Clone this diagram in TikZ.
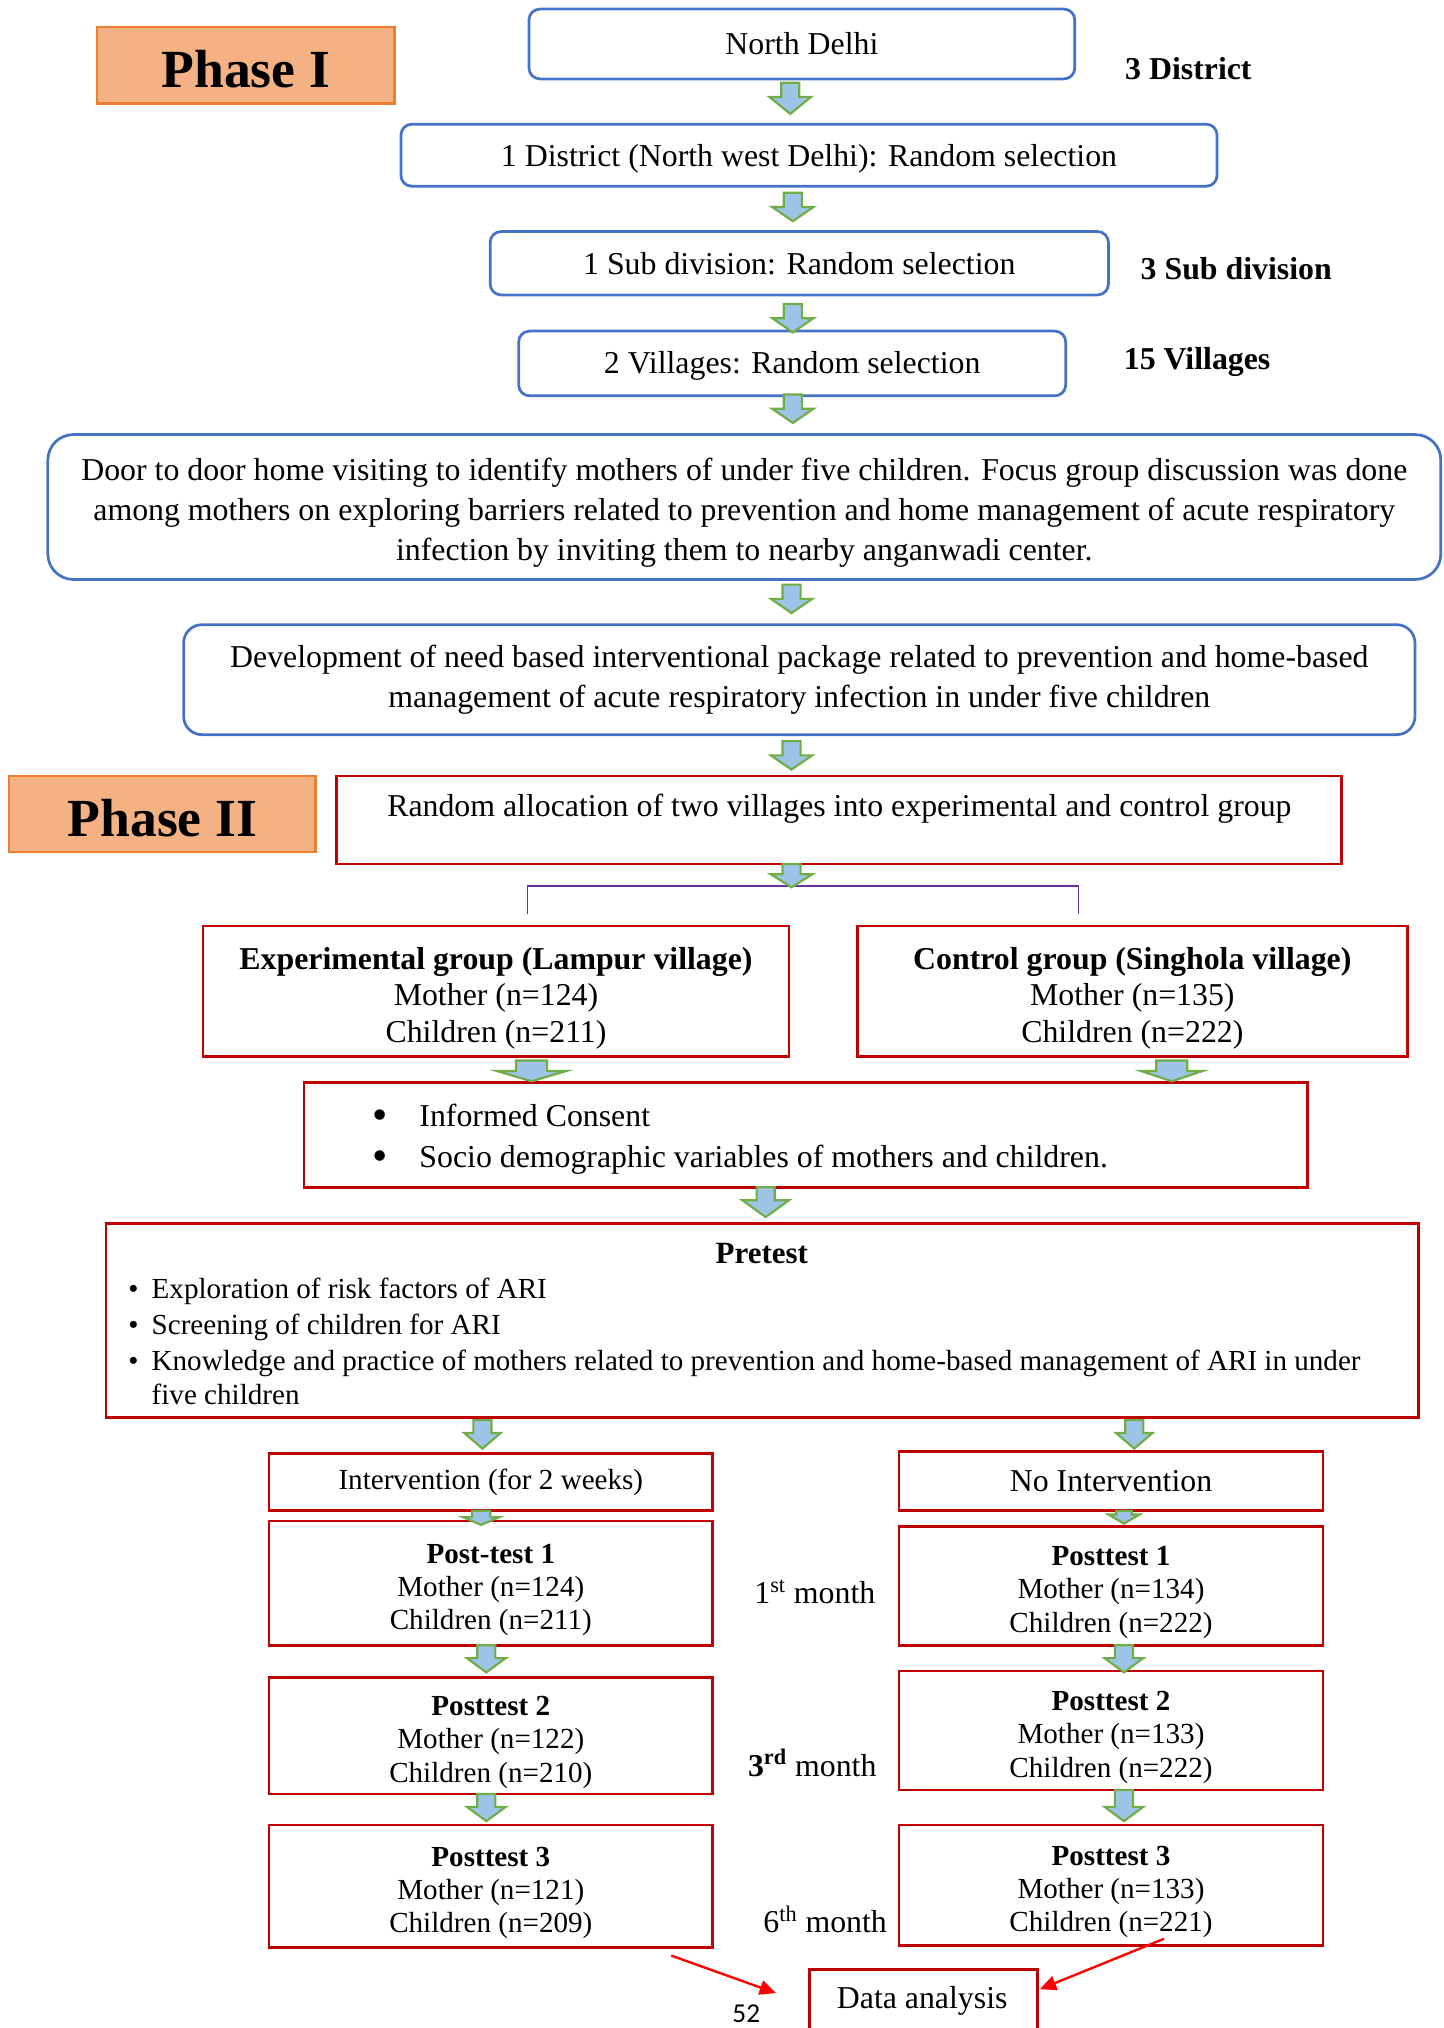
\documentclass[tikz,border=0pt]{standalone}
\usepackage{fontspec}
\setmainfont{Liberation Serif}
\newfontfamily\pagefont{Carlito}
\usepackage{xcolor}
\definecolor{ColBlue}{RGB}{68,114,196}
\definecolor{ColRed}{RGB}{192,0,0}
\definecolor{ColOrange}{RGB}{237,125,49}
\definecolor{ColPeach}{RGB}{244,177,131}
\definecolor{ColSky}{RGB}{157,195,230}
\definecolor{ColGreen}{RGB}{112,173,71}
\definecolor{ColPurple}{RGB}{112,48,160}
\definecolor{ColArrow}{RGB}{255,0,0}
\usepackage{tikz}
\usetikzlibrary{arrows.meta}
\newcommand{\Upx}{0.025cm}
\newcommand{\BodyFont}{\fontsize{17.5}{22}\selectfont}
\newcommand{\SmallFont}{\fontsize{16}{18.3}\selectfont}
\tikzstyle{BlueBox}=[draw=ColBlue,line width=1.5pt,rounded corners=6pt,inner sep=0pt]
\tikzstyle{RedBox}=[draw=ColRed,line width=1.5pt,inner sep=0pt]
\tikzstyle{PhaseBox}=[draw=ColOrange,fill=ColPeach,line width=1.2pt,inner sep=0pt,
font=\fontsize{29.5}{34}\selectfont\bfseries]
\tikzstyle{BlockArrow}=[draw=ColGreen,fill=ColSky,line width=1.2pt]
\tikzstyle{RedArrow}=[draw=ColArrow,line width=1.3pt,-{Triangle[length=9pt,width=8pt]}]
\tikzstyle{Bracket}=[draw=ColPurple,line width=0.6pt]
\tikzstyle{Side}=[font=\BodyFont\bfseries,anchor=west]
\tikzstyle{Item}=[anchor=base west,inner sep=0pt]
\tikzstyle{Small}=[font=\SmallFont]
\tikzstyle{Mid}=[font=\fontsize{17.5}{20.2}\selectfont]
\newcommand{\DownArrow}[6]{\draw[BlockArrow](#1-#5,#2)--(#1+#5,#2)--(#1+#5,#3)
  --(#1+#6,#3)--(#1,#4)--(#1-#6,#3)--(#1-#5,#3)--cycle;}
\newcommand{\Lines}[1]{\begin{tabular}{@{}c@{}}\rule{0pt}{1.25em}#1\end{tabular}}
\newcommand{\Bul}{\makebox[0.45cm][l]{\textbullet}}
\newcommand{\BigBul}{\makebox[0.9cm][l]{\raisebox{-1.5pt}{\fontsize{24}{24}\selectfont\textbullet}}}

\begin{document}
\begin{tikzpicture}[x=0.025cm,y=-0.025cm,font=\BodyFont]
        \useasboundingbox(0,0)rectangle(1116,1568);
        % phase I
        \node[PhaseBox,minimum width=230*\Upx,minimum height=59*\Upx](ph1)
                at(190,50.5){\rule{0pt}{24.5pt}Phase I};
        \node[BlueBox,minimum width=422*\Upx,minimum height=54*\Upx](north)
                at(620,34){North Delhi};
        \node[Side](sd1)at(865,53){3 District};
        \node[BlueBox,minimum width=631*\Upx,minimum height=48*\Upx](dist)
                at(625.5,120){\rule{0pt}{16pt}1 District (North west Delhi): Random selection};
        \node[BlueBox,minimum width=478*\Upx,minimum height=49*\Upx](sub)
                at(618,203.5){1 Sub division: Random selection};
        \node[Side](sd2)at(877,208){3 Sub division};
        \node[BlueBox,minimum width=423*\Upx,minimum height=50*\Upx](vil)
                at(612.5,281){\rule{0pt}{15pt}2 Villages: Random selection};
        \node[Side](sd3)at(864,280){15 Villages};
        \node[BlueBox,rounded corners=14pt,minimum width=1077*\Upx,minimum height=112*\Upx](visit)
                at(575.5,392){\Lines{Door to door home visiting to identify mothers of under five children. Focus group discussion was done\\
                among mothers on exploring barriers related to prevention and home management of acute respiratory\\
                infection by inviting them to nearby anganwadi center.}};
        \node[BlueBox,rounded corners=10pt,minimum width=952*\Upx,minimum height=85*\Upx](pack)
                at(618,525.5){\begin{tabular}{@{}c@{}}Development of need based interventional package related to prevention and home-based\\
                management of acute respiratory infection in under five children\end{tabular}};
        % phase II
        \node[PhaseBox,minimum width=237*\Upx,minimum height=59*\Upx](ph2)
                at(125.5,629.5){\rule{0pt}{24.5pt}Phase II};
        \node[RedBox,minimum width=777*\Upx,minimum height=68*\Upx](alloc)at(648.5,634){};
        \node(allocT)at(649,625)
                {Random allocation of two villages into experimental and control group};
        \draw[Bracket](408,707)--(408,685)--(834,685)--(834,707);
        \node[RedBox,Mid,minimum width=453*\Upx,minimum height=101*\Upx](exp)
                at(383.5,766.5){\Lines{\textbf{Experimental group (Lampur village)}\\Mother (n=124)\\Children (n=211)}};
        \node[RedBox,Mid,minimum width=425*\Upx,minimum height=101*\Upx](ctrl)
                at(875.5,766.5){\Lines{\textbf{Control group (Singhola village)}\\Mother (n=135)\\Children (n=222)}};
        \node[RedBox,minimum width=776*\Upx,minimum height=81*\Upx](consent)at(623,877.5){};
        \node[Item](c1)at(288,871){\BigBul Informed Consent};
        \node[Item](c2)at(288,903){\BigBul Socio demographic variables of mothers and children.};
        \node[RedBox,minimum width=1015*\Upx,minimum height=150*\Upx](pre)at(589.5,1021){};
        \node[font=\fontsize{17}{22}\selectfont\bfseries](preT)at(589,969){Pretest};
        \node[Item,Small](p1)at(99,1004){\Bul Exploration of risk factors of ARI};
        \node[Item,Small](p2)at(99,1032){\Bul Screening of children for ARI};
        \node[Item,Small](p3)at(99,1060){\Bul Knowledge and practice of mothers related to prevention and home-based management of ARI in under};
        \node[Item,Small](p4)at(99,1086){\hspace*{0.45cm}five children};
        \node[RedBox,Small,minimum width=343*\Upx,minimum height=44*\Upx](intv)
                at(379.5,1146){Intervention (for 2 weeks)};
        \node[RedBox,minimum width=328*\Upx,minimum height=46*\Upx](nointv)
                at(859,1145){No Intervention};
        \node[RedBox,Small,minimum width=343*\Upx,minimum height=96*\Upx](pt1L)
                at(379.5,1224){\Lines{\textbf{Post-test 1}\\Mother (n=124)\\Children (n=211)}};
        \node[RedBox,Small,minimum width=328*\Upx,minimum height=92*\Upx](pt1R)
                at(859,1226){\Lines{\textbf{Posttest 1}\\Mother (n=134)\\Children (n=222)}};
        \node(m1)at(630,1231){1\textsuperscript{st} month};
        \node[RedBox,Small,minimum width=343*\Upx,minimum height=90*\Upx](pt2L)
                at(379.5,1342){\Lines{\textbf{Posttest 2}\\Mother (n=122)\\Children (n=210)}};
        \node[RedBox,Small,minimum width=328*\Upx,minimum height=92*\Upx](pt2R)
                at(859,1338){\Lines{\textbf{Posttest 2}\\Mother (n=133)\\Children (n=222)}};
        \node(m3)at(628,1363){\textbf{3\textsuperscript{rd}} month};
        \node[RedBox,Small,minimum width=343*\Upx,minimum height=95*\Upx](pt3L)
                at(379.5,1458.5){\Lines{\textbf{Posttest 3}\\Mother (n=121)\\Children (n=209)}};
        \node[RedBox,Small,minimum width=328*\Upx,minimum height=93*\Upx](pt3R)
                at(859,1457.5){\Lines{\textbf{Posttest 3}\\Mother (n=133)\\Children (n=221)}};
        \node(m6)at(638,1484){6\textsuperscript{th} month};
        \node[RedBox,minimum width=176*\Upx,minimum height=77*\Upx](data)at(714,1561.5){};
        \node(dataT)at(713,1547){Data analysis};
        \node[font=\pagefont\fontsize{15}{18}\selectfont](page)at(577,1557){52};
        % block arrows
        \DownArrow{611}{64}{75}{88}{7}{16}
        \DownArrow{613}{149}{160}{171}{7}{16}
        \DownArrow{613}{235}{246}{257}{7}{16}
        \DownArrow{613}{305}{316}{327}{7}{16}
        \DownArrow{612}{452}{463}{474}{7}{16}
        \DownArrow{612}{573}{584}{595}{7}{16}
        \DownArrow{612}{668}{676}{686}{7}{16}
        \DownArrow{411}{820}{828}{836}{12}{27}
        \DownArrow{906}{820}{828}{836}{12}{24}
        \DownArrow{592}{918}{928}{941}{7}{18}
        \DownArrow{373}{1098}{1108}{1120}{7}{14}
        \DownArrow{877}{1098}{1108}{1120}{7}{14}
        \DownArrow{372}{1168}{1173}{1179}{7}{14}
        \DownArrow{869}{1168}{1171}{1178}{6}{12}
        \DownArrow{376}{1272}{1282}{1293}{7}{15}
        \DownArrow{869}{1272}{1282}{1293}{7}{15}
        \DownArrow{376}{1387}{1397}{1408}{7}{15}
        \DownArrow{869}{1384}{1397}{1408}{7}{15}
        % to data analysis
        \coordinate(eL)at(519,1512);
        \coordinate(eR)at(900,1499);
        \coordinate(dL)at(600,1541);
        \coordinate(dR)at(804,1538);
        \draw[RedArrow](eL)--(dL);
        \draw[RedArrow](eR)--(dR);
    \end{tikzpicture}
\end{document}
